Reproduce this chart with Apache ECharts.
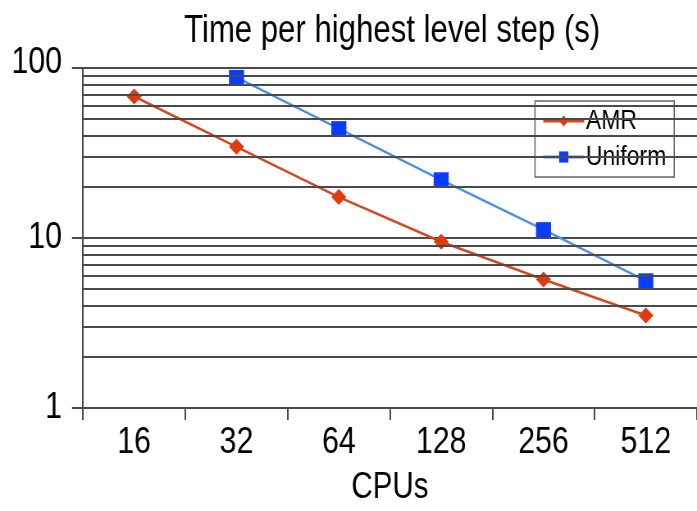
<!DOCTYPE html>
<html><head><meta charset="utf-8">
<script src="https://cdn.jsdelivr.net/npm/echarts@6/dist/echarts.min.js"></script>
<style>
html,body{margin:0;padding:0;background:#fff;overflow:hidden}
#wrap{width:697px;height:511px;overflow:hidden;position:relative}
#c{position:absolute;left:0;top:0;height:511px;transform-origin:0 0}
</style>
</head><body><div id="wrap"><div id="c"></div></div>
<script>
const categories = ['16','32','64','128','256','512'];
const amr = [68, 34.4, 17.4, 9.5, 5.7, 3.5];
const uniform = [null, 88, 44, 22, 11.2, 5.6];
const minorGrid = [2,3,4,5,6,7,8,9,20,30,40,50,60,70,80,90];

// Narrow (Arial-Narrow-like) lettering: draw wider, then condense horizontally.
const S = 0.82;
const X = v => v / S;
const el = document.getElementById('c');
el.style.width = X(697) + 'px';
el.style.transform = 'scaleX(' + S + ')';

const FONT = '"Liberation Sans", Arial, sans-serif';
const GRID = '#4a4a4a';
const AMR_LINE = '#d9441c', AMR_MARK = '#e23a0e';
const UNI_LINE = '#4d8fe6', UNI_MARK = '#0a3cff';
const chart = echarts.init(el, null, {renderer:'canvas'});
chart.setOption({
  animation: false,
  backgroundColor: '#fff',
  title: { text: 'Time per highest level step (s)', left: X(388), textAlign: 'center', top: 8,
    textStyle: { fontFamily: FONT, fontSize: 38, fontWeight: 'normal', color: '#000' } },
  legend: {
    orient: 'vertical', left: X(535), top: 101,
    backgroundColor: '#fff', borderColor: '#666', borderWidth: 1.5, borderRadius: 0,
    padding: [6, X(8), 6, X(7)], itemGap: 8, itemWidth: X(41), itemHeight: 14,
    textStyle: { fontFamily: FONT, fontSize: 28, color: '#000', padding: [0,0,0,-3] },
    data: [
      { name: 'AMR', lineStyle: { color: AMR_LINE, width: 3 }, itemStyle: { color: AMR_MARK } },
      { name: 'Uniform', lineStyle: { color: UNI_LINE, width: 3 }, itemStyle: { color: UNI_MARK } }
    ]
  },
  grid: { left: X(83), right: X(697) - X(701), top: 68, bottom: 97, containLabel: false },
  xAxis: {
    type: 'category', data: categories, boundaryGap: true,
    name: 'CPUs', nameLocation: 'middle', nameGap: 62,
    nameTextStyle: { fontFamily: FONT, fontSize: 36, color: '#000' },
    axisLine: { lineStyle: { color: GRID, width: 2 } },
    axisTick: { show: true, length: 12, alignWithLabel: false, lineStyle: { color: GRID, width: 2 } },
    axisLabel: { fontFamily: FONT, fontSize: 37, color: '#000', margin: 16 },
    splitLine: { show: false }
  },
  yAxis: {
    type: 'log', logBase: 10, min: 1, max: 100,
    axisLine: { show: true, lineStyle: { color: GRID, width: 2 } },
    axisTick: { show: true, length: X(11), lineStyle: { color: GRID, width: 2 } },
    axisLabel: { fontFamily: FONT, fontSize: 37, color: '#000', margin: X(21),
      formatter: v => v === 100 ? '{t|100}' : String(v),
      rich: { t: { fontFamily: FONT, fontSize: 37, color: '#000', padding: [0, 0, 10, 0] } } },
    splitLine: { show: true, lineStyle: { color: GRID, width: 2 } }
  },
  series: [
    { name: 'AMR', type: 'line', data: amr, symbol: 'diamond', symbolSize: [X(15), 16],
      lineStyle: { color: AMR_LINE, width: 2.5 }, itemStyle: { color: AMR_MARK },
      markLine: { silent: true, symbol: 'none', label: { show: false },
        lineStyle: { color: GRID, width: 2, type: 'solid' },
        data: minorGrid.map(v => ({ yAxis: v })) }, z: 3 },
    { name: 'Uniform', type: 'line', data: uniform, symbol: 'rect', symbolSize: [X(15), 15],
      lineStyle: { color: UNI_LINE, width: 2.5 }, itemStyle: { color: UNI_MARK }, z: 4 }
  ]
});
</script></body></html>
